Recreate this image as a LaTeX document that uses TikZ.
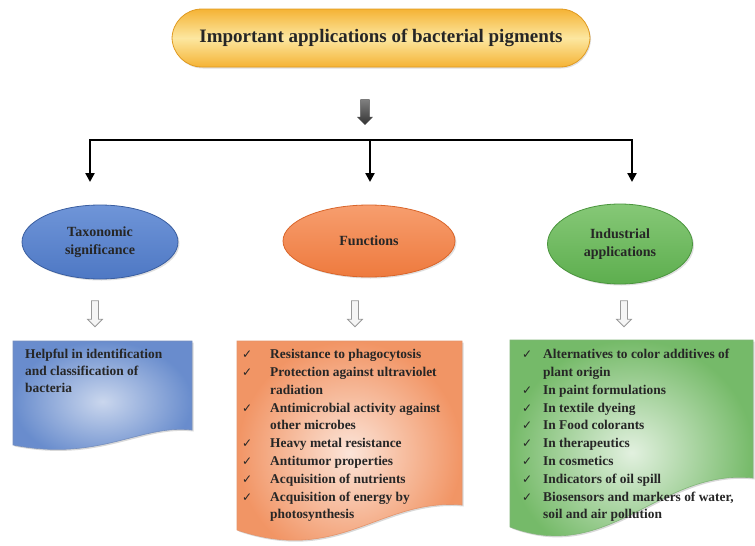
\documentclass[tikz,border=0pt]{standalone}
\usepackage{fontspec}
\setmainfont{Liberation Serif}
\newfontfamily\symfont{DejaVu Sans}
\usetikzlibrary{arrows.meta,shapes.geometric,shapes.arrows,shadows}
\definecolor{goldA}{HTML}{F5B335}
\definecolor{goldB}{HTML}{FCE7A0}
\definecolor{goldE}{HTML}{E09A20}
\definecolor{blueA}{HTML}{4E78C4}
\definecolor{blueB}{HTML}{6F95D8}
\definecolor{blueE}{HTML}{3A5EA0}
\definecolor{orA}{HTML}{EE7A3E}
\definecolor{orB}{HTML}{F79E6E}
\definecolor{orE}{HTML}{D9652A}
\definecolor{grA}{HTML}{5DAE4E}
\definecolor{grB}{HTML}{86C877}
\definecolor{grE}{HTML}{4A953D}
\definecolor{txt}{HTML}{262626}
\tikzset{
  oval/.style={ellipse, draw=#1E, line width=0.8pt, top color=#1B, bottom color=#1A,
     align=center, font=\bfseries\fontsize{14}{18}\selectfont, text=txt,
     drop shadow={opacity=0.25, shadow xshift=1.5pt, shadow yshift=-1.5pt}},
  hollowarrow/.style={single arrow, rotate=-90, draw=gray!80, line width=0.8pt, fill=gray!8,
     minimum height=26pt, minimum width=15pt, inner sep=2.5pt, single arrow head extend=3.2pt,
     single arrow head indent=0pt},
  darkarrow/.style={single arrow, rotate=-90, draw=black!70, top color=black!50, bottom color=black!80,
     minimum height=25pt, minimum width=15pt, inner sep=3.2pt, single arrow head extend=2.5pt},
  branch/.style={line width=2.6pt, draw=black},
  branchtip/.style={branch, -{Triangle[length=9pt,width=9pt]}},
  listtxt/.style={anchor=north west, text=txt, align=left, inner sep=0pt,
     font=\bfseries\fontsize{13.4}{17.8}\selectfont},
  docshape/.style={draw=#1E!70, line width=0.6pt,
     drop shadow={opacity=0.3, shadow xshift=1.5pt, shadow yshift=-1.5pt}}
}
\newcommand{\ck}{{\symfont\mdseries\fontsize{12}{17.8}\selectfont ✓}}
\begin{document}
\begin{tikzpicture}[x=1pt,y=-1pt]
\useasboundingbox (0,0) rectangle (755,546);
% banner
\node (title) [draw=goldE, line width=0.8pt, rounded corners=30pt, minimum width=418pt, minimum height=58pt,
   top color=goldA, bottom color=goldA, middle color=goldB, text=txt,
   font=\bfseries\fontsize{19}{22}\selectfont,
   drop shadow={opacity=0.25, shadow xshift=1pt, shadow yshift=-1.5pt}] at (381,38)
   {Important applications of bacterial pigments};
% top dark arrow
\node (toparrow) [darkarrow] at (365,110) {};
% branch
\coordinate (jL) at (90,140);
\coordinate (jM) at (370,140);
\coordinate (jR) at (632,140);
\coordinate (tL) at (90,182);
\coordinate (tM) at (370,182);
\coordinate (tR) at (632,182);
\draw[branch, line cap=rect] (jL) -- (jR);
\draw[branchtip] (jL) -- (tL);
\draw[branchtip] (jM) -- (tM);
\draw[branchtip] (jR) -- (tR);
% ellipses
\node (tax) [oval=blue, minimum width=156pt, minimum height=74pt] at (100,242) {Taxonomic\\significance};
\node (func) [oval=or, minimum width=172pt, minimum height=72pt] at (369,241) {Functions};
\node (ind) [oval=gr, minimum width=145pt, minimum height=80pt] at (620,244) {Industrial\\applications};
% hollow arrows
\node (a1) [hollowarrow] at (95,312) {};
\node (a2) [hollowarrow] at (355,312) {};
\node (a3) [hollowarrow] at (624,312) {};
% boxes
\path[docshape=blue, inner color=blueA!30, outer color=blueA!85]
  (13,341) -- (192,341) -- (192,430) .. controls (140,424) and (100,462) .. (13,445) -- cycle;
\path[docshape=or, inner color=orA!20, outer color=orA!80]
  (237,341) -- (462,341) -- (462,505) .. controls (380,498) and (340,565) .. (237,530) -- cycle;
\path[docshape=gr, inner color=grA!18, outer color=grA!85]
  (510,340) -- (753,340) -- (753,478) .. controls (660,468) and (610,565) .. (510,527) -- cycle;
% texts
\node (btxt) [listtxt, font=\bfseries\fontsize{13.4}{17}\selectfont] at (25,349) {Helpful in identification\\and classification of\\bacteria};
\node (otxt) [listtxt] at (242,346) {%
\begin{tabular}{@{}p{28pt}@{}l@{}}
\ck & Resistance to phagocytosis\\
\ck & Protection against ultraviolet\\
    & radiation\\
\ck & Antimicrobial activity against\\
    & other microbes\\
\ck & Heavy metal resistance\\
\ck & Antitumor properties\\
\ck & Acquisition of nutrients\\
\ck & Acquisition of energy by\\
    & photosynthesis
\end{tabular}};
\node (gtxt) [listtxt] at (522,346) {%
\begin{tabular}{@{}p{21pt}@{}l@{}}
\ck & Alternatives to color additives of\\
    & plant origin\\
\ck & In paint formulations\\
\ck & In textile dyeing\\
\ck & In Food colorants\\
\ck & In therapeutics\\
\ck & In cosmetics\\
\ck & Indicators of oil spill\\
\ck & Biosensors and markers of water,\\
    & soil and air pollution
\end{tabular}};
\end{tikzpicture}
\end{document}
